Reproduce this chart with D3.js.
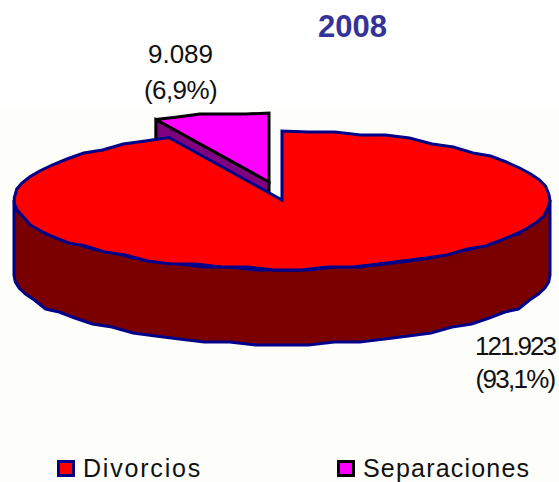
<!DOCTYPE html>
<html><head><meta charset="utf-8">
<script src="https://cdnjs.cloudflare.com/ajax/libs/d3/7.8.5/d3.min.js"></script>
<style>html,body{margin:0;padding:0;background:#fff}svg{display:block}text{font-family:"Liberation Sans",Arial,sans-serif}</style>
</head><body><svg id="c" width="559" height="482"></svg>
<script>
const title = "2008";
const categories = ["Divorcios", "Separaciones"];
const values = [121923, 9089];
const valueLabels = ["121.923", "9.089"];
const percentLabels = ["(93,1%)", "(6,9%)"];
const topColors = ["#ff0000", "#ff00ff"];
const sideColors = ["#7a0000", "#800080"];
const strokeColors = ["#000088", "#000000"];

const svg = d3.select("#c");
const defs = svg.append("defs");
const g = defs.append("linearGradient").attr("id","bg").attr("x1",0).attr("x2",0).attr("y1",0).attr("y2",1);
g.append("stop").attr("offset",0).attr("stop-color","#ffffff");
g.append("stop").attr("offset",0.035).attr("stop-color","#fdfdf9");
g.append("stop").attr("offset",1).attr("stop-color","#fdfdf9");
svg.append("rect").attr("x",0).attr("y",100).attr("width",559).attr("height",382).attr("fill","url(#bg)");

const cx = 282, cy = 200, rx = 268, ry = 69, depth = 75, explodeX = -13, explodeY = -18;
const arcs = d3.pie().sort(null).startAngle(0).endAngle(2*Math.PI)(values);
const snapY = y => Math.round(y/3)*3;
const pt = (a, dx=0, dy=0) => [cx + dx + rx*Math.sin(a), cy + dy - ry*Math.cos(a)];
const samples = (a0, a1, dx=0, dy=0) => {
  const n = Math.max(2, Math.ceil(Math.abs(a1-a0)/0.1));
  return d3.range(n+1).map(i => {
    const p = pt(a0+(a1-a0)*i/n, dx, dy);
    return (i===0||i===n) ? p : [p[0], snapY(p[1]-dy)+dy];
  });
};
const line = d3.line();

function topFace(i, dx, dy){
  const a = arcs[i];
  return line([[cx+dx, cy+dy], ...samples(a.startAngle, a.endAngle, dx, dy)]) + "Z";
}
function drawPath(d, fill, stroke){
  svg.append("path").attr("d", d).attr("fill", fill).attr("stroke", stroke)
     .attr("stroke-width", 3).attr("stroke-linejoin","miter").attr("stroke-miterlimit",3);
}

// Separaciones (exploded, drawn first so the main slice overlaps it)
const sa = arcs[1];
const e = pt(sa.startAngle, explodeX, explodeY);
const ap = [cx+explodeX, cy+explodeY];
drawPath(line([ap, e, [e[0], e[1]+depth], [ap[0], ap[1]+depth]])+"Z", sideColors[1], strokeColors[1]);
drawPath(topFace(1, explodeX, explodeY), topColors[1], strokeColors[1]);

// Divorcios: front wall then top
const front = samples(Math.PI/2, 3*Math.PI/2);
drawPath(line([...front, ...front.slice().reverse().map(p=>[p[0],p[1]+depth])])+"Z", sideColors[0], strokeColors[0]);
drawPath(topFace(0, 0, 0), topColors[0], strokeColors[0]);

// Title
svg.append("text").attr("x",352.5).attr("y",37).attr("text-anchor","middle")
   .attr("font-size",31).attr("font-weight","bold").attr("fill","#333399").text(title);

// Data labels
const labelPos = [[515,355,388],[180.5,63,99]];
const spacing = [[-2,-1.7],[0,-0.6]];
categories.forEach((c,i)=>{
  [valueLabels[i], percentLabels[i]].forEach((t,j)=>{
    svg.append("text").attr("x",labelPos[i][0]).attr("y",labelPos[i][j+1]).attr("text-anchor","middle")
      .attr("font-size",26).attr("letter-spacing",spacing[i][j]).attr("fill","#111").text(t);
  });
});

// Legend
const legendX = d3.scaleOrdinal().domain(categories).range([58.5,338.5]);
const legendSpacing = [1.8, 1.2];
categories.forEach((c,i)=>{
  const x = legendX(c);
  svg.append("rect").attr("x",x).attr("y",461.5).attr("width",15).attr("height",14)
     .attr("fill",topColors[i]).attr("stroke",strokeColors[i]).attr("stroke-width",3);
  svg.append("text").attr("x",x+24.5).attr("y",476.5).attr("font-size",25).attr("letter-spacing",legendSpacing[i])
     .attr("fill","#111").text(c);
});
</script></body></html>
